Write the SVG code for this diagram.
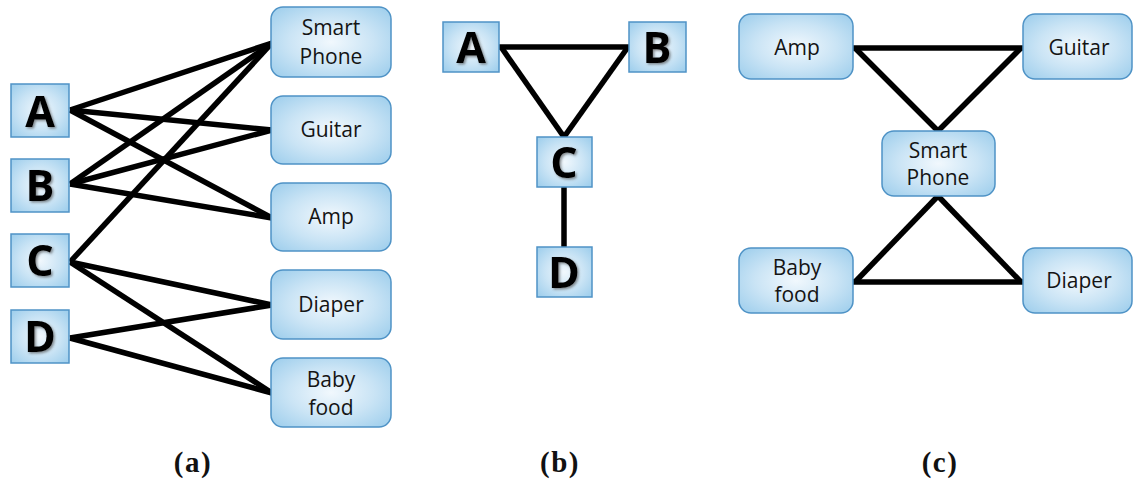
<svg xmlns="http://www.w3.org/2000/svg" width="1133" height="488" viewBox="0 0 1133 488">
  <defs>
    <radialGradient id="boxFill" cx="50%" cy="50%" r="65%">
      <stop offset="0" stop-color="#f1f8fd"/>
      <stop offset="0.55" stop-color="#cae4f5"/>
      <stop offset="1" stop-color="#a2d0ed"/>
    </radialGradient>
    <filter id="letterShadow" x="-20%" y="-20%" width="150%" height="150%">
      <feDropShadow dx="1.5" dy="1.5" stdDeviation="1" flood-color="#444" flood-opacity="0.6"/>
    </filter>
  </defs>
  <style>
    .item rect { fill: url(#boxFill); stroke: #4f93c6; stroke-width: 1.5; }
    .item text { font-family: "Open Sans", "Liberation Sans", sans-serif; font-size: 21px; fill: #141414; text-anchor: middle; }
    .user rect { fill: url(#boxFill); stroke: #4f93c6; stroke-width: 1.5; }
    .user text { font-family: "Open Sans", "Liberation Sans", sans-serif; font-weight: bold; font-size: 43px; fill: #000; text-anchor: middle; filter: url(#letterShadow); }
    .edges line { stroke: #000; stroke-width: 5.5; stroke-linecap: butt; }
    .caption { font-family: "Liberation Serif", "DejaVu Serif", serif; font-weight: bold; font-size: 29px; letter-spacing: 1.5px; fill: #111; text-anchor: middle; }
  </style>

  <!-- (a) bipartite user/item graph -->
  <g class="edges" id="edges-a">
    <line x1="70" y1="110" x2="272" y2="43"/>
    <line x1="70" y1="110" x2="272" y2="130"/>
    <line x1="70" y1="110" x2="272" y2="218"/>
    <line x1="70" y1="184" x2="272" y2="43"/>
    <line x1="70" y1="184" x2="272" y2="130"/>
    <line x1="70" y1="184" x2="272" y2="218"/>
    <line x1="70" y1="262" x2="272" y2="43"/>
    <line x1="70" y1="262" x2="272" y2="305"/>
    <line x1="70" y1="262" x2="272" y2="393"/>
    <line x1="70" y1="338" x2="272" y2="305"/>
    <line x1="70" y1="338" x2="272" y2="393"/>
  </g>

  <g class="user" id="a-A"><rect x="11" y="84" width="58" height="53"/><text x="40" y="127">A</text></g>
  <g class="user" id="a-B"><rect x="11" y="159" width="58" height="53"/><text x="40" y="201">B</text></g>
  <g class="user" id="a-C"><rect x="11" y="234" width="58" height="53"/><text x="40" y="276">C</text></g>
  <g class="user" id="a-D"><rect x="11" y="310" width="58" height="53"/><text x="40" y="352">D</text></g>

  <g class="item" id="a-smartphone"><rect x="271" y="7" width="120" height="70" rx="12"/><text x="331" y="35">Smart</text><text x="331" y="64">Phone</text></g>
  <g class="item" id="a-guitar"><rect x="271" y="96" width="120" height="68" rx="12"/><text x="331" y="137">Guitar</text></g>
  <g class="item" id="a-amp"><rect x="271" y="183" width="120" height="68" rx="12"/><text x="331" y="224">Amp</text></g>
  <g class="item" id="a-diaper"><rect x="271" y="270" width="120" height="69" rx="12"/><text x="331" y="312">Diaper</text></g>
  <g class="item" id="a-babyfood"><rect x="271" y="358" width="120" height="69" rx="12"/><text x="331" y="387">Baby</text><text x="331" y="415">food</text></g>

  <!-- (b) user graph -->
  <g class="edges" id="edges-b">
    <line x1="499" y1="47" x2="629" y2="47"/>
    <line x1="501" y1="47" x2="564" y2="137"/>
    <line x1="628" y1="47" x2="564" y2="137"/>
    <line x1="564" y1="187" x2="564" y2="247"/>
  </g>

  <g class="user" id="b-A"><rect x="443" y="22" width="56" height="50"/><text x="471" y="63">A</text></g>
  <g class="user" id="b-B"><rect x="629" y="22" width="57" height="50"/><text x="657" y="63">B</text></g>
  <g class="user" id="b-C"><rect x="537" y="137" width="55" height="50"/><text x="564" y="178">C</text></g>
  <g class="user" id="b-D"><rect x="537" y="247" width="55" height="50"/><text x="564" y="288">D</text></g>

  <!-- (c) item graph -->
  <g class="edges" id="edges-c">
    <line x1="853" y1="48" x2="1023" y2="48"/>
    <line x1="855" y1="48" x2="938" y2="131"/>
    <line x1="1021" y1="48" x2="938" y2="131"/>
    <line x1="938" y1="196" x2="855" y2="282"/>
    <line x1="938" y1="196" x2="1021" y2="282"/>
    <line x1="853" y1="282" x2="1023" y2="282"/>
  </g>

  <g class="item" id="c-amp"><rect x="739" y="14" width="114" height="65" rx="12"/><text x="797" y="55">Amp</text></g>
  <g class="item" id="c-guitar"><rect x="1023" y="14" width="109" height="65" rx="12"/><text x="1079" y="55">Guitar</text></g>
  <g class="item" id="c-smartphone"><rect x="882" y="131" width="113" height="65" rx="12"/><text x="938" y="158">Smart</text><text x="938" y="185">Phone</text></g>
  <g class="item" id="c-babyfood"><rect x="739" y="248" width="114" height="65" rx="12"/><text x="797" y="275">Baby</text><text x="797" y="302">food</text></g>
  <g class="item" id="c-diaper"><rect x="1023" y="248" width="109" height="65" rx="12"/><text x="1079" y="288">Diaper</text></g>

  <!-- panel captions -->
  <text class="caption" x="193" y="472">(a)</text>
  <text class="caption" x="560" y="472">(b)</text>
  <text class="caption" x="940" y="472">(c)</text>
</svg>
